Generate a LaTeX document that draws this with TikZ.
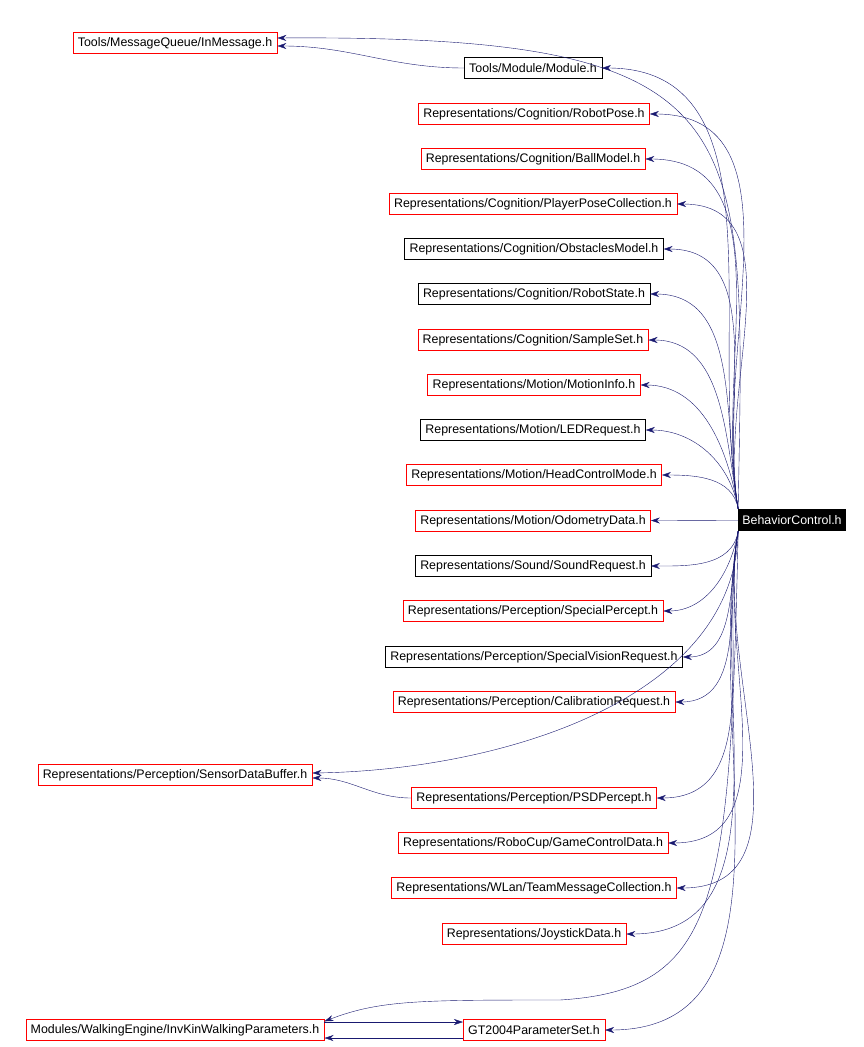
\documentclass[tikz,border=0pt]{standalone}
\usepackage{fontspec}
\setmainfont{Liberation Sans}
\usetikzlibrary{arrows.meta}
\definecolor{edgeblue}{RGB}{25,25,112}

\begin{document}
\begin{tikzpicture}[x=1pt, y=-1pt, font=\fontsize{12.4}{14}\selectfont,
		hdr/.style={draw=red, minimum height=21pt, inner xsep=5pt},
		doc/.style={draw=black, minimum height=21pt, inner xsep=5pt},
		dep/.style={draw=edgeblue, -{Stealth[length=9pt, width=6pt]}}]
		\useasboundingbox (0,0) rectangle (863,1047);
		\node [hdr] (IM) at (175,43) {Tools/MessageQueue/InMessage.h};
		\node [doc] (MO) at (533,68) {Tools/Module/Module.h};
		\node [hdr] (RP) at (534,114) {Representations/Cognition/RobotPose.h};
		\node [hdr] (BM) at (533,159) {Representations/Cognition/BallModel.h};
		\node [hdr] (PP) at (533,204) {Representations/Cognition/PlayerPoseCollection.h};
		\node [doc] (OM) at (534,249) {Representations/Cognition/ObstaclesModel.h};
		\node [doc] (RS) at (534,294) {Representations/Cognition/RobotState.h};
		\node [hdr] (SS) at (533,340) {Representations/Cognition/SampleSet.h};
		\node [hdr] (MI) at (534,385) {Representations/Motion/MotionInfo.h};
		\node [doc] (LR) at (533,430) {Representations/Motion/LEDRequest.h};
		\node [hdr] (HC) at (534,475) {Representations/Motion/HeadControlMode.h};
		\node [hdr] (OD) at (533,521) {Representations/Motion/OdometryData.h};
		\node [doc] (SR) at (533,566) {Representations/Sound/SoundRequest.h};
		\node [hdr] (SP) at (533,611) {Representations/Perception/SpecialPercept.h};
		\node [doc] (SV) at (534,657) {Representations/Perception/SpecialVisionRequest.h};
		\node [hdr] (CR) at (534,702) {Representations/Perception/CalibrationRequest.h};
		\node [hdr] (SD) at (175,775) {Representations/Perception/SensorDataBuffer.h};
		\node [hdr] (PS) at (534,798) {Representations/Perception/PSDPercept.h};
		\node [hdr] (GC) at (533,843) {Representations/RoboCup/GameControlData.h};
		\node [hdr] (TM) at (534,888) {Representations/WLan/TeamMessageCollection.h};
		\node [hdr] (JD) at (534,934) {Representations/JoystickData.h};
		\node [hdr] (IK) at (175,1030) {Modules/WalkingEngine/InvKinWalkingParameters.h};
		\node [hdr] (GT) at (534,1030) {GT2004ParameterSet.h};
		\node [fill=black, text=white, minimum height=22pt, inner xsep=4pt] (BC) at (792,520) {BehaviorControl.h};

		\foreach \n in {MO,RP,BM,PP,OM,RS,SS,MI,LR,HC}
			\draw [dep] (BC.north west) to [out=100, in=0] (\n.east);
		\draw [dep] (BC.north west) .. controls (745,120) and (760,35) .. ([yshift=5pt]IM.east);
		\draw [dep] (BC) -- (OD);
		\foreach \n in {SR,SP,SV,CR,PS,GC,TM,JD,GT}
			\draw [dep] (BC.south west) to [out=-100, in=0] (\n.east);
		\draw [dep] (BC.south west) .. controls (735,700) and (500,770) .. ([yshift=2pt]SD.east);
		\draw [dep] (BC.south west) .. controls (730,900) and (720,990) .. (560,1000) .. controls (420,1000) and (380,1000) .. ([yshift=-2pt]IK.north east);
		\draw [dep] (MO.west) to [out=180, in=0] ([yshift=-3pt]IM.east);
		\draw [dep] (PS.west) to [out=180, in=0] ([yshift=-3pt]SD.east);
		\draw [dep] ([yshift=-8pt]GT.west) -- ([yshift=-8pt]IK.east);
		\draw [dep] ([yshift=8pt]IK.east) -- ([yshift=8pt]GT.west);
	\end{tikzpicture}
\end{document}
